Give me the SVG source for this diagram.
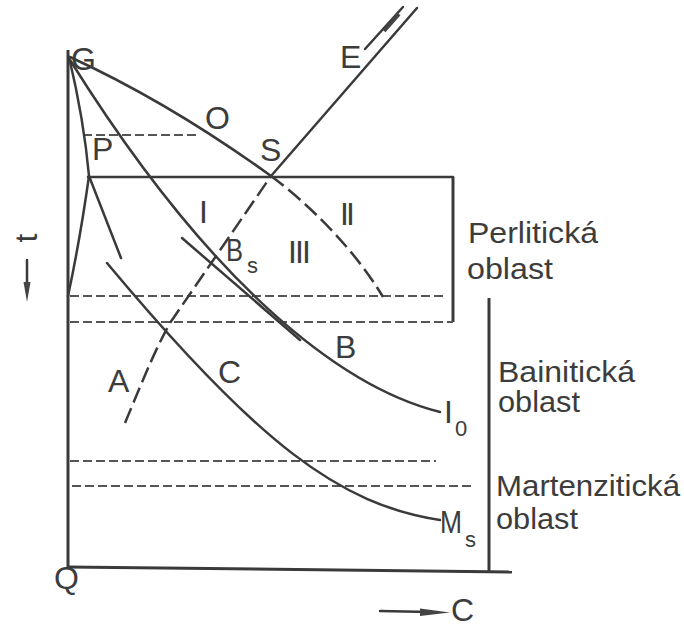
<svg xmlns="http://www.w3.org/2000/svg" width="684" height="628" viewBox="0 0 684 628">
<style>
.ln{fill:none;stroke:#3a3a3a;stroke-width:2.5;stroke-linecap:round}
.ax{fill:none;stroke:#3a3a3a;stroke-width:3}
.ds{fill:none;stroke:#555;stroke-width:2;stroke-dasharray:9 4}
.dl{fill:none;stroke:#3a3a3a;stroke-width:2.5;stroke-dasharray:16 6}
.t{font-family:"Liberation Sans",Arial,sans-serif;font-size:32px;fill:#3c3c3c}
.w{font-family:"Liberation Sans",Arial,sans-serif;font-size:29px;fill:#3c3c3c}
.sub{font-family:"Liberation Sans",Arial,sans-serif;font-size:22px;fill:#3c3c3c}
</style>
<rect width="684" height="628" fill="#ffffff"/>

<g id="axes">
  <line class="ax" x1="68" y1="50" x2="68" y2="568"/>
  <line class="ax" x1="67" y1="567" x2="512" y2="572"/>
  <line class="ax" x1="489" y1="298" x2="489" y2="572"/>
  <line class="ax" x1="453" y1="177" x2="453" y2="322"/>
  <line class="ln" x1="27" y1="260" x2="27" y2="286"/>
  <polygon points="23.5,282 30.5,282 27,302" fill="#444"/>
  <line class="ln" x1="380" y1="611" x2="430" y2="612"/>
  <polygon points="420,608.5 450,612.5 420,616" fill="#444"/>
</g>

<g id="connectors">
  <line class="ln" x1="88" y1="177" x2="453" y2="177"/>
  <line class="ds" x1="83" y1="135" x2="197" y2="135"/>
  <line class="ds" x1="70" y1="296" x2="445" y2="296"/>
  <line class="ds" x1="70" y1="322" x2="453" y2="322"/>
  <line class="ds" x1="70" y1="461" x2="436" y2="461"/>
  <line class="ds" x1="72" y1="486" x2="473" y2="486"/>

  <path class="ln" d="M70,57 Q170,103 271,176"/>
  <path class="dl" d="M271,176 C310,205 355,250 383,297"/>

  <path class="ln" d="M69,57 Q84,120 89,176 Q80,240 68,296"/>
  <line class="ln" x1="89" y1="176" x2="121" y2="258"/>

  <path class="ln" d="M70,60 C210,284 340,387 440,412"/>
  <path class="ln" d="M182,238 L300,340"/>

  <path class="ln" d="M107,263 C257,443 340,505 440,520"/>

  <path class="dl" d="M125,423 C145,375 155,350 170,323 L271,176"/>
  <line class="ln" x1="271" y1="176" x2="417" y2="8"/>
  <line class="ln" x1="365" y1="49" x2="403" y2="7"/>
  <line x1="384" y1="31" x2="399" y2="14" stroke="#444" stroke-width="4"/>
</g>

<g id="labels">
  <text class="t" x="71" y="70">G</text>
  <text class="t" x="205" y="129">O</text>
  <text class="t" x="92" y="160" font-size="28">P</text>
  <text class="t" x="260" y="161">S</text>
  <text class="t" x="340" y="68">E</text>
  <text class="t" x="199" y="223">I</text>
  <text class="t" x="340" y="225" textLength="15">II</text>
  <text class="t" x="288" y="263" textLength="23">III</text>
  <text class="t" x="226" y="261" font-size="30" textLength="17" lengthAdjust="spacingAndGlyphs">B</text>
  <text class="sub" x="247" y="273">s</text>
  <text class="t" x="335" y="358">B</text>
  <text class="t" x="108" y="392">A</text>
  <text class="t" x="218" y="383">C</text>
  <text class="t" x="444" y="423">I</text>
  <text class="sub" x="455" y="436">0</text>
  <text class="t" x="440" y="533" textLength="22" lengthAdjust="spacingAndGlyphs">M</text>
  <text class="sub" x="465" y="547">s</text>
  <text class="t" x="54" y="589">Q</text>
  <text class="t" x="451" y="621" font-size="30">C</text>
  <text class="t" transform="translate(37,238) rotate(-90)" text-anchor="middle" font-size="28">t</text>
  <text class="w" x="468" y="243" textLength="130" lengthAdjust="spacingAndGlyphs">Perlitická</text>
  <text class="w" x="467" y="279" textLength="86" lengthAdjust="spacingAndGlyphs">oblast</text>
  <text class="w" x="498" y="382" textLength="137" lengthAdjust="spacingAndGlyphs">Bainitická</text>
  <text class="w" x="498" y="412" textLength="82" lengthAdjust="spacingAndGlyphs">oblast</text>
  <text class="w" x="496" y="496" textLength="184" lengthAdjust="spacingAndGlyphs">Martenzitická</text>
  <text class="w" x="496" y="529" textLength="82" lengthAdjust="spacingAndGlyphs">oblast</text>
</g>
</svg>
